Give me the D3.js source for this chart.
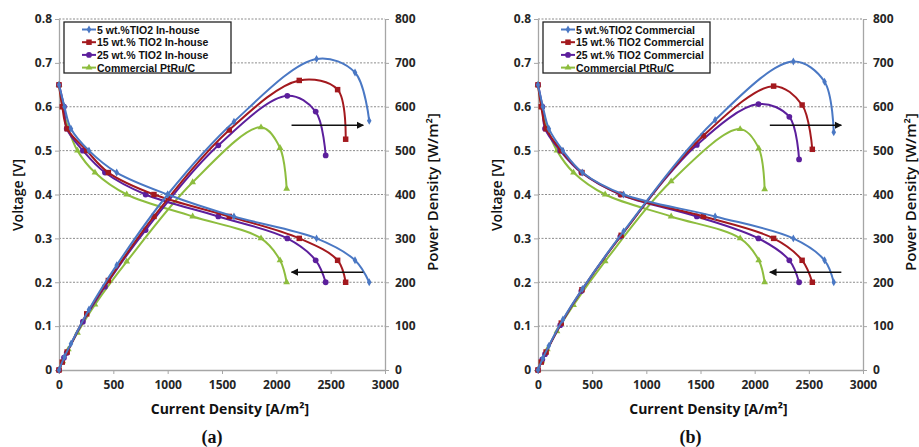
<!DOCTYPE html>
<html lang='en'>

<head>
    <meta charset='UTF-8'>
    <title></title>
    <script src="https://cdn.jsdelivr.net/npm/d3@7/dist/d3.min.js"></script>
    <style>
        body { margin: 0; background: #ffffff; }
        .tick text { font-family: "Open Sans", sans-serif; font-weight: 700; font-size: 12px; fill: #262626; }
    </style>
</head>

<body>
    <svg class="chart"></svg>
</body>
<script>
    /**
     * 数据
     */
    const voltageTicks = [0, 0.1, 0.2, 0.3, 0.4, 0.5, 0.6, 0.7, 0.8];
    const powerTicks = [0, 100, 200, 300, 400, 500, 600, 700, 800];
    const currentTicks = [0, 500, 1000, 1500, 2000, 2500, 3000];

    // 每个测量点的电压 [V]
    const voltage = [0.65, 0.60, 0.55, 0.50, 0.45, 0.40, 0.35, 0.30, 0.25, 0.20];

    // (a) In-house
    const legendA = ["5 wt.%TIO2 In-house", "15 wt.% TIO2 In-house", "25 wt.% TIO2 In-house", "Commercial PtRu/C"];
    const currentA5 = [0, 50, 110, 276, 531, 1000, 1610, 2370, 2724, 2855];
    const currentA15 = [0, 30, 75, 255, 454, 874, 1567, 2211, 2564, 2638];
    const currentA25 = [0, 46, 71, 220, 423, 797, 1466, 2101, 2362, 2454];
    const currentAPtRu = [0, 34, 86, 170, 331, 623, 1230, 1859, 2034, 2095];
    const powerA5 = [0, 30, 60, 138, 239, 400, 566, 709, 678, 568];
    const powerA15 = [0, 18, 41, 128, 204, 350, 547, 660, 639, 526];
    const powerA25 = [0, 28, 39, 110, 190, 319, 512, 625, 589, 489];
    const powerAPtRu = [0, 20, 47, 85, 149, 247, 428, 553, 506, 413];

    // (b) Commercial TiO2
    const legendB = ["5 wt.%TIO2 Commercial", "15 wt.% TIO2 Commercial", "25 wt.% TIO2 Commercial", "Commercial PtRu/C"];
    const currentB5 = [0, 45, 100, 230, 410, 790, 1635, 2357, 2645, 2730];
    const currentB15 = [0, 30, 75, 215, 406, 768, 1527, 2175, 2438, 2532];
    const currentB25 = [0, 40, 65, 205, 400, 760, 1466, 2035, 2320, 2410];
    const currentBPtRu = [0, 34, 86, 175, 328, 620, 1229, 1866, 2038, 2092];
    const powerB5 = [0, 27, 55, 115, 185, 316, 570, 703, 657, 542];
    const powerB15 = [0, 18, 41, 107, 183, 307, 534, 647, 604, 503];
    const powerB25 = [0, 24, 36, 102, 180, 304, 513, 606, 577, 480];
    const powerBPtRu = [0, 20, 47, 88, 148, 248, 430, 549, 505, 412];

    // 箭头注释：[起点电流, 终点电流, 值]
    const arrowPower = [2140, 2800, 558];   // 指向右侧功率轴
    const arrowVoltage = [2800, 2140, 0.223]; // 指向左侧电压轴

    /**
     * 基本配置
     */
    const svgWidth = 919;
    const svgHeight = 447;
    const colors = ["#4a78c4", "#a3191e", "#5c1f9c", "#8dbd3e"];
    const symbols = [d3.symbolDiamond, d3.symbolSquare, d3.symbolCircle, d3.symbolTriangle];
    const symbolSizes = [18, 30, 26, 20];

    const svg = d3.select(".chart")
        .attr("width", svgWidth)
        .attr("height", svgHeight);

    svg.append("defs").append("marker")
        .attr("id", "arrowHead")
        .attr("viewBox", "0 0 10 10")
        .attr("refX", 9).attr("refY", 5)
        .attr("markerWidth", 5).attr("markerHeight", 5)
        .attr("orient", "auto")
        .append("path")
        .attr("d", "M0,0 L10,5 L0,10 Z")
        .attr("fill", "#111");

    function drawPanel(left, right, series, legend, label) {
        const top = 19, bottom = 370;
        const x = d3.scaleLinear().domain([0, 3000]).range([left, right]);
        const yV = d3.scaleLinear().domain([0, 0.8]).range([bottom, top]);
        const yP = d3.scaleLinear().domain([0, 800]).range([bottom, top]);
        const g = svg.append("g");

        // 网格线
        g.append("g").selectAll("line")
            .data(voltageTicks.slice(1))
            .join("line")
            .attr("x1", left).attr("x2", right)
            .attr("y1", d => yV(d)).attr("y2", d => yV(d))
            .attr("stroke", "#8c8c8c")
            .attr("stroke-width", 1)
            .attr("stroke-dasharray", "2,1.5");

        // 坐标轴
        const styleAxis = a => {
            a.select(".domain").attr("stroke", "#a6a6a6").attr("stroke-width", 1.3);
            a.selectAll(".tick line").attr("stroke", "#a6a6a6");
        };
        g.append("g")
            .attr("transform", `translate(${left},0)`)
            .call(d3.axisLeft(yV).tickValues(voltageTicks).tickSize(4).tickSizeOuter(0)
                .tickFormat(d => d === 0 ? "0" : d.toFixed(1)))
            .call(styleAxis);
        g.append("g")
            .attr("transform", `translate(${right},0)`)
            .call(d3.axisRight(yP).tickValues(powerTicks).tickSize(4).tickSizeOuter(0))
            .call(styleAxis)
            .selectAll(".tick text").attr("x", 10);
        g.append("g")
            .attr("transform", `translate(0,${bottom})`)
            .call(d3.axisBottom(x).tickValues(currentTicks).tickSize(4).tickSizeOuter(0)
                .tickFormat(d3.format("d")))
            .call(styleAxis)
            .selectAll(".tick text").attr("dy", "1em");

        // 曲线
        const lineV = d3.line().curve(d3.curveCatmullRom.alpha(0.5))
            .x(d => x(d[0])).y(d => yV(d[1]));
        const lineP = d3.line().curve(d3.curveCatmullRom.alpha(0.5))
            .x(d => x(d[0])).y(d => yP(d[1]));

        series.slice().reverse().forEach((s, ri) => {
            const i = series.length - 1 - ri;
            const ptsV = s.current.map((c, k) => [c, voltage[k]]);
            const ptsP = s.current.map((c, k) => [c, s.power[k]]);
            [[ptsV, lineV, yV], [ptsP, lineP, yP]].forEach(([pts, line, y]) => {
                g.append("path")
                    .attr("d", line(pts))
                    .attr("fill", "none")
                    .attr("stroke", colors[i])
                    .attr("stroke-width", 2);
                g.append("g").selectAll("path")
                    .data(pts)
                    .join("path")
                    .attr("transform", d => `translate(${x(d[0])},${y(d[1])})`)
                    .attr("d", d3.symbol().type(symbols[i]).size(symbolSizes[i]))
                    .attr("fill", colors[i]);
            });
        });

        // 箭头
        g.append("line")
            .attr("x1", x(arrowPower[0])).attr("x2", x(arrowPower[1]))
            .attr("y1", yP(arrowPower[2])).attr("y2", yP(arrowPower[2]))
            .attr("stroke", "#111").attr("stroke-width", 1.5)
            .attr("marker-end", "url(#arrowHead)");
        g.append("line")
            .attr("x1", x(arrowVoltage[0])).attr("x2", x(arrowVoltage[1]))
            .attr("y1", yV(arrowVoltage[2])).attr("y2", yV(arrowVoltage[2]))
            .attr("stroke", "#111").attr("stroke-width", 1.5)
            .attr("marker-end", "url(#arrowHead)");

        // 图例
        const lg = g.append("g").attr("transform", `translate(${left + 5},22)`);
        lg.append("rect")
            .attr("width", 167).attr("height", 51)
            .attr("fill", "#fff")
            .attr("stroke", "#222").attr("stroke-width", 1.3);
        legend.forEach((name, i) => {
            const yy = 7.5 + i * 12.7;
            lg.append("line")
                .attr("x1", 18).attr("x2", 32).attr("y1", yy).attr("y2", yy)
                .attr("stroke", colors[i]).attr("stroke-width", 2);
            lg.append("path")
                .attr("transform", `translate(25,${yy})`)
                .attr("d", d3.symbol().type(symbols[i]).size(symbolSizes[i]))
                .attr("fill", colors[i]);
            lg.append("text")
                .attr("x", 33).attr("y", yy + 4)
                .attr("font-family", "Liberation Sans, Arial, sans-serif")
                .attr("font-weight", 700)
                .attr("font-size", 10.5)
                .attr("fill", "#111")
                .text(name);
        });

        // 轴标题
        g.append("text")
            .attr("x", (left + right) / 2 + 8).attr("y", 414)
            .attr("text-anchor", "middle")
            .attr("font-family", "Open Sans, sans-serif")
            .attr("font-weight", 700).attr("font-size", 14)
            .attr("fill", "#111")
            .text("Current Density [A/m²]");
        g.append("text")
            .attr("transform", `translate(${left - 36},195) rotate(-90)`)
            .attr("text-anchor", "middle")
            .attr("font-family", "Open Sans, sans-serif")
            .attr("font-weight", 600).attr("font-size", 14)
            .attr("fill", "#111")
            .text("Voltage [V]");
        g.append("text")
            .attr("transform", `translate(${right + 53},192) rotate(-90)`)
            .attr("text-anchor", "middle")
            .attr("font-family", "Open Sans, sans-serif")
            .attr("font-weight", 600).attr("font-size", 15)
            .attr("fill", "#111")
            .text("Power Density [W/m²]");
        g.append("text")
            .attr("x", (left + right) / 2 - 10).attr("y", 443)
            .attr("text-anchor", "middle")
            .attr("font-family", "Liberation Serif, serif")
            .attr("font-weight", 700).attr("font-size", 18)
            .attr("fill", "#111")
            .text(label);
    }

    drawPanel(59, 385, [
        { current: currentA5, power: powerA5 },
        { current: currentA15, power: powerA15 },
        { current: currentA25, power: powerA25 },
        { current: currentAPtRu, power: powerAPtRu }
    ], legendA, "(a)");

    drawPanel(538, 863, [
        { current: currentB5, power: powerB5 },
        { current: currentB15, power: powerB15 },
        { current: currentB25, power: powerB25 },
        { current: currentBPtRu, power: powerBPtRu }
    ], legendB, "(b)");
</script>

</html>
